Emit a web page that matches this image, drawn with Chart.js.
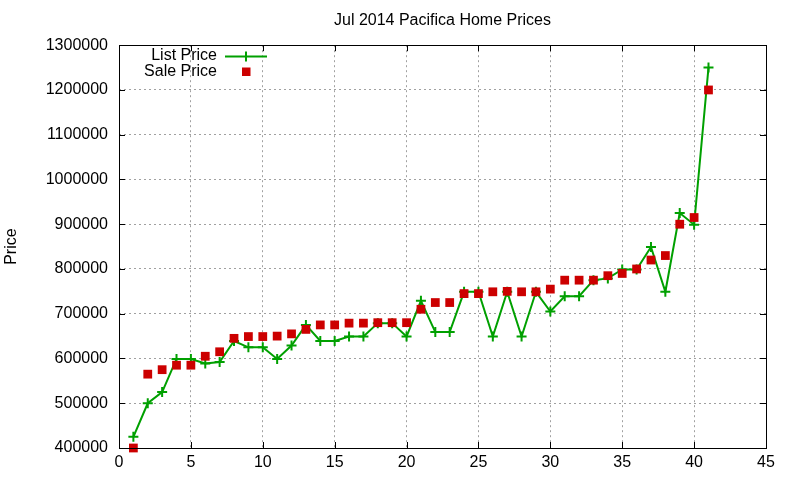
<!DOCTYPE html>
<html>
<head>
<meta charset="utf-8">
<title>Jul 2014 Pacifica Home Prices</title>
<script src="https://cdn.jsdelivr.net/npm/chart.js@4.4.1/dist/chart.umd.min.js"></script>
<style>
  html, body { margin: 0; padding: 0; background: #fff; }
  canvas { display: block; }
</style>
</head>
<body>
<canvas id="chart" width="800" height="480"></canvas>
<script>
// home number 1..41, sorted by list price
var homeIndex = [];
for (var n = 1; n <= 41; n++) homeIndex.push(n);

var listPrice = [
  425000, 500000, 525000, 599000, 599000, 589000, 592000, 639000, 625000, 625000,
  599000, 629000, 675000, 639000, 639000, 649000, 649000, 679000, 679000, 649000,
  729000, 659000, 659000, 749000, 749000, 649000, 749000, 649000, 749000, 705000,
  739000, 739000, 775000, 779000, 799000, 799000, 849000, 749000, 925000, 899000,
  1250000
];

var salePrice = [
  400000, 565000, 575000, 585000, 585000, 605000, 615000, 645000, 649000, 649000,
  650000, 655000, 665000, 675000, 675000, 679000, 679000, 680000, 680000, 680000,
  710000, 725000, 725000, 745000, 745000, 749000, 750000, 749000, 749000, 755000,
  775000, 775000, 775000, 785000, 790000, 800000, 820000, 830000, 900000, 915000,
  1200000
];

var xTicks = [0, 5, 10, 15, 20, 25, 30, 35, 40, 45];
var yTicks = [400000, 500000, 600000, 700000, 800000, 900000, 1000000, 1100000, 1200000, 1300000];

var listColor = '#00a000';
var saleColor = '#cc0000';

function toPoints(values) {
  return values.map(function(v, i) {
    return { x: homeIndex[i], y: v };
  });
}

Chart.defaults.font.family = "'Liberation Sans', Arial, sans-serif";
Chart.defaults.font.size = 16;
Chart.defaults.color = '#000';

// black frame + inward tick marks like gnuplot
var framePlugin = {
  id: 'frame',
  afterDatasetsDraw: function(chart) {
    var ctx = chart.ctx;
    var a = chart.chartArea;
    var xs = chart.scales.x;
    var ys = chart.scales.y;
    var len = 6;
    ctx.save();
    ctx.strokeStyle = '#000';
    ctx.lineWidth = 1;
    ctx.beginPath();
    xTicks.forEach(function(t) {
      var px = Math.round(xs.getPixelForValue(t)) + 0.5;
      ctx.moveTo(px, a.bottom); ctx.lineTo(px, a.bottom - len);
      ctx.moveTo(px, a.top); ctx.lineTo(px, a.top + len);
    });
    yTicks.forEach(function(t) {
      var py = Math.round(ys.getPixelForValue(t)) + 0.5;
      ctx.moveTo(a.left, py); ctx.lineTo(a.left + len, py);
      ctx.moveTo(a.right, py); ctx.lineTo(a.right - len, py);
    });
    ctx.stroke();
    ctx.strokeRect(Math.round(a.left) + 0.5, Math.round(a.top) + 0.5,
                   Math.round(a.right - a.left), Math.round(a.bottom - a.top));
    ctx.restore();
  },
  afterDraw: function(chart) {
    // gnuplot style key: label, then sample
    var ctx = chart.ctx;
    var sets = chart.data.datasets;
    ctx.save();
    ctx.font = "16px 'Liberation Sans', Arial, sans-serif";
    ctx.fillStyle = '#000';
    ctx.textAlign = 'right';
    ctx.textBaseline = 'middle';
    ctx.fillText(sets[0].label, 217, 56);
    ctx.fillText(sets[1].label, 217, 71.5);

    ctx.strokeStyle = listColor;
    ctx.lineWidth = 2;
    ctx.beginPath();
    ctx.moveTo(225, 56.5); ctx.lineTo(267, 56.5);
    ctx.moveTo(246, 51.5); ctx.lineTo(246, 61.5);
    ctx.stroke();

    ctx.fillStyle = saleColor;
    ctx.fillRect(242, 67.5, 8.5, 8.5);
    ctx.restore();
  }
};

new Chart(document.getElementById('chart'), {
  type: 'line',
  data: {
    datasets: [{
      label: 'List Price',
      data: toPoints(listPrice),
      borderColor: listColor,
      backgroundColor: listColor,
      borderWidth: 2,
      tension: 0,
      pointStyle: 'cross',
      pointRadius: 5,
      pointBorderWidth: 2,
      pointHoverRadius: 5,
      clip: false,
      order: 1
    }, {
      label: 'Sale Price',
      data: toPoints(salePrice),
      showLine: false,
      borderColor: saleColor,
      backgroundColor: saleColor,
      pointStyle: 'rect',
      pointRadius: 6.2,
      pointBorderWidth: 0,
      pointHoverRadius: 6.2,
      clip: false,
      order: 0
    }]
  },
  options: {
    responsive: false,
    animation: false,
    devicePixelRatio: 1,
    layout: { padding: { left: 0, right: 34, top: 0, bottom: 0 } },
    plugins: {
      legend: { display: false },
      tooltip: { enabled: false },
      title: {
        display: true,
        text: 'Jul 2014 Pacifica Home Prices',
        fullSize: false,
        font: { size: 16, weight: 'normal' },
        color: '#000',
        padding: { top: 11, bottom: 15 }
      }
    },
    scales: {
      x: {
        type: 'linear',
        min: 0,
        max: 45,
        afterFit: function(s) { s.height = 32; },
        afterBuildTicks: function(s) {
          s.ticks = xTicks.map(function(v) { return { value: v }; });
        },
        ticks: { padding: 5, maxRotation: 0, autoSkip: false },
        grid: { color: '#a0a0a0', lineWidth: 1, drawTicks: false },
        border: { display: false, dash: [2, 3] }
      },
      y: {
        type: 'linear',
        min: 400000,
        max: 1300000,
        afterFit: function(s) { s.width = 119; },
        afterBuildTicks: function(s) {
          s.ticks = yTicks.map(function(v) { return { value: v }; });
        },
        ticks: {
          padding: 11,
          autoSkip: false,
          callback: function(v) { return String(v); }
        },
        title: {
          display: true,
          text: 'Price',
          font: { size: 16 },
          padding: { top: 2, bottom: 0 }
        },
        grid: { color: '#a0a0a0', lineWidth: 1, drawTicks: false },
        border: { display: false, dash: [2, 3] }
      }
    }
  },
  plugins: [framePlugin]
});
</script>
</body>
</html>
